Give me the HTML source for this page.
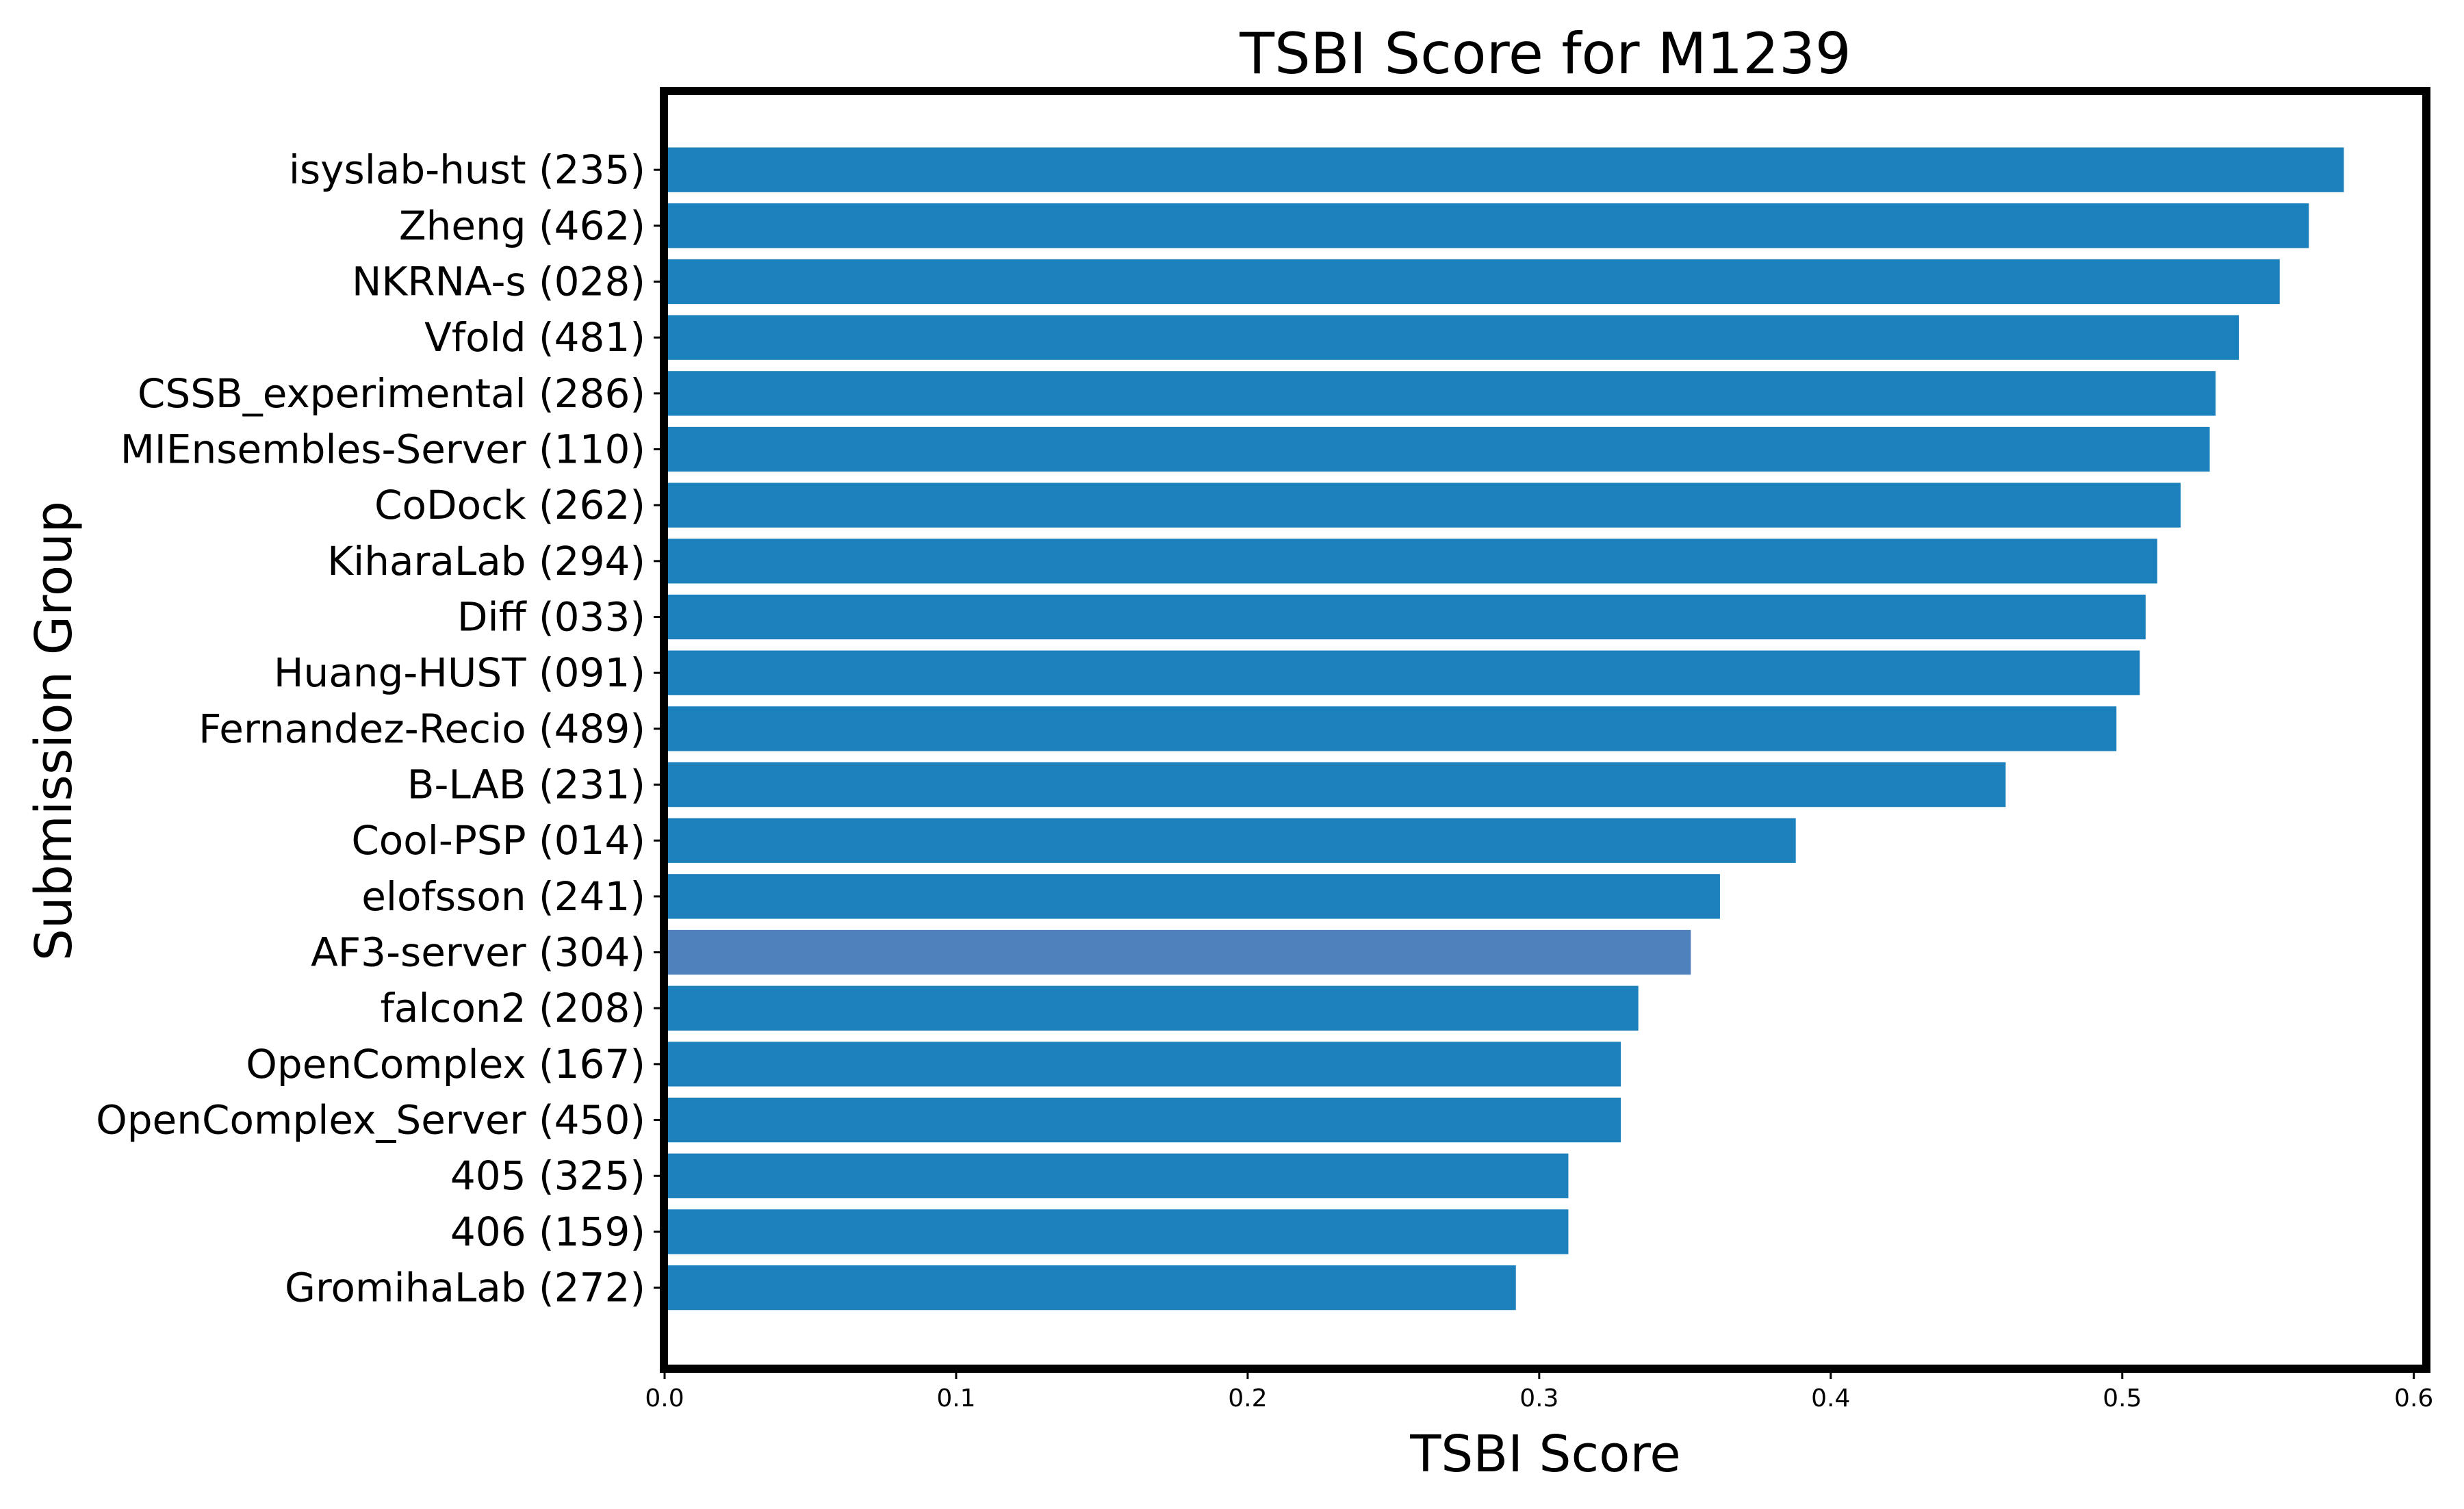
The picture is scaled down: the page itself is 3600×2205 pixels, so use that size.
<!DOCTYPE html>
<html><head><meta charset="utf-8"><style>
html,body{margin:0;padding:0;background:#fff;}
svg{display:block;font-family:"Liberation Sans","DejaVu Sans",sans-serif;}
</style></head><body>
<svg id="chart" width="3600" height="2205" viewBox="0 0 3600 2205" xmlns="http://www.w3.org/2000/svg">
<rect width="3600" height="2205" fill="#fff"/>
<text x="2258" y="107" font-size="83" text-anchor="middle" font-family="DejaVu Sans, sans-serif">TSBI Score for M1239</text>
<g id="bars"></g>
<g id="yticks"></g>
<g id="xticks"></g>
<rect x="970" y="133" width="2575" height="1867" fill="none" stroke="#000" stroke-width="12"/>
<text x="2258" y="2150" font-size="74" text-anchor="middle" font-family="DejaVu Sans, sans-serif">TSBI Score</text>
<text x="0" y="0" font-size="74" text-anchor="middle" font-family="DejaVu Sans, sans-serif" transform="translate(104,1068) rotate(-90)">Submission Group</text>
</svg>
<script>
const categories = ["isyslab-hust (235)","Zheng (462)","NKRNA-s (028)","Vfold (481)","CSSB_experimental (286)","MIEnsembles-Server (110)","CoDock (262)","KiharaLab (294)","Diff (033)","Huang-HUST (091)","Fernandez-Recio (489)","B-LAB (231)","Cool-PSP (014)","elofsson (241)","AF3-server (304)","falcon2 (208)","OpenComplex (167)","OpenComplex_Server (450)","405 (325)","406 (159)","GromihaLab (272)"];
const values = [0.576,0.564,0.554,0.540,0.532,0.530,0.520,0.512,0.508,0.506,0.498,0.460,0.388,0.362,0.352,0.334,0.328,0.328,0.310,0.310,0.292];
const highlight = ["AF3-server (304)"];
const xTicks = [0,0.1,0.2,0.3,0.4,0.5,0.6];
const xTickLabels = ["0.0","0.1","0.2","0.3","0.4","0.5","0.6"];

const NS="http://www.w3.org/2000/svg";
const X0=971, X1=3545, XMAX=0.6043;
const Y0=133, Y1=2000;
const yMin=-1.41, yMax=categories.length-1+1.45;
function xs(v){return X0+(v/XMAX)*(X1-X0);}
function ys(i){return Y0+(i-yMin)/(yMax-yMin)*(Y1-Y0);}
const unit=(Y1-Y0)/(yMax-yMin);
const bh=0.8*unit;
const gb=document.getElementById('bars'), gy=document.getElementById('yticks'), gx=document.getElementById('xticks');
categories.forEach((c,i)=>{
  const r=document.createElementNS(NS,'rect');
  r.setAttribute('x',xs(0)); r.setAttribute('y',ys(i)-bh/2);
  r.setAttribute('width',xs(values[i])-xs(0)); r.setAttribute('height',bh);
  r.setAttribute('fill',highlight.includes(c)?'#4f81bc':'#1b80bb');
  
  
  gb.appendChild(r);
  const t=document.createElementNS(NS,'line');
  t.setAttribute('x1',955); t.setAttribute('x2',965); t.setAttribute('y1',ys(i)); t.setAttribute('y2',ys(i));
  t.setAttribute('stroke','#000'); t.setAttribute('stroke-width',3);
  
  
  gy.appendChild(t);
  const l=document.createElementNS(NS,'text');
  l.setAttribute('x',943); l.setAttribute('y',ys(i)+20);
  l.setAttribute('font-size',58); l.setAttribute('text-anchor','end');
  l.setAttribute('font-family','DejaVu Sans, sans-serif');
  l.textContent=c;
  
  
  gy.appendChild(l);
});
xTicks.forEach((v,i)=>{
  const t=document.createElementNS(NS,'line');
  t.setAttribute('x1',xs(v)); t.setAttribute('x2',xs(v)); t.setAttribute('y1',2000); t.setAttribute('y2',2015);
  t.setAttribute('stroke','#000'); t.setAttribute('stroke-width',3);
  
  
  gx.appendChild(t);
  const l=document.createElementNS(NS,'text');
  l.setAttribute('x',xs(v)); l.setAttribute('y',2055);
  l.setAttribute('font-size',36); l.setAttribute('text-anchor','middle');
  l.setAttribute('font-family','DejaVu Sans, sans-serif');
  l.textContent=xTickLabels[i];
  
  
  gx.appendChild(l);
});
</script>
</body></html>
